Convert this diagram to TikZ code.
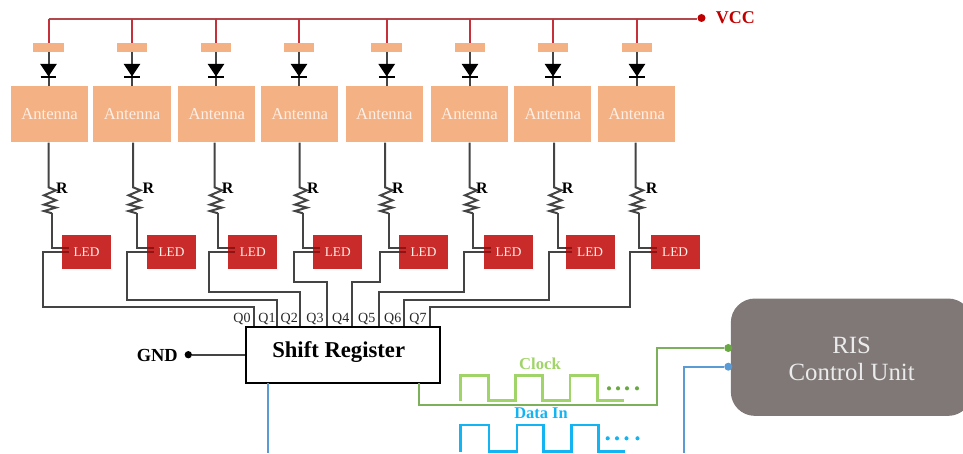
\documentclass[tikz,border=0pt]{standalone}
\usepackage{fontspec}
\setmainfont{Liberation Serif}
\definecolor{wirecol}{HTML}{444444}
\definecolor{railcol}{HTML}{B2474C}
\definecolor{dropcol}{HTML}{C4313A}
\definecolor{vcccol}{HTML}{C00000}
\definecolor{antcol}{HTML}{F4B183}
\definecolor{antext}{HTML}{FDEFE6}
\definecolor{ledcol}{HTML}{C92A2A}
\definecolor{stubcol}{HTML}{8E1414}
\definecolor{riscol}{HTML}{7F7877}
\definecolor{gwire}{HTML}{7DB05A}
\definecolor{gwave}{HTML}{A0D468}
\definecolor{gdot}{HTML}{6AA843}
\definecolor{bwire}{HTML}{5B9BD5}
\definecolor{bwave}{HTML}{14B4F2}
\tikzset{
  wire/.style={draw=wirecol,line width=1.5pt,line join=miter},
  rail/.style={draw=railcol,line width=1.5pt},
  drop/.style={draw=dropcol,line width=1.5pt},
  stub/.style={draw=stubcol,line width=1.5pt},
  padbox/.style={fill=antcol,inner sep=0pt,minimum width=22.9pt,minimum height=7pt},
  antbox/.style={fill=antcol,inner sep=0pt,anchor=north west,minimum height=42pt,text=antext,font=\fontsize{12.5}{15}\selectfont},
  ledbox/.style={fill=ledcol,inner sep=0pt,anchor=north west,minimum width=36.8pt,minimum height=25.9pt,text=antext,font=\fontsize{10}{12}\selectfont},
  rlabel/.style={inner sep=0pt,font=\fontsize{12}{14}\selectfont\bfseries},
  qlabel/.style={inner sep=0pt,text=black!85,font=\fontsize{10.5}{12}\selectfont},
  regbox/.style={draw=black,fill=white,line width=1.5pt,inner sep=0pt,minimum width=146pt,minimum height=42.2pt},
  risbox/.style={fill=riscol,rounded corners=18pt,inner sep=0pt,minimum width=181pt,minimum height=88pt},
  ristext/.style={inner sep=0pt,text=white!92!black,font=\fontsize{18.6}{20}\selectfont},
  sdot/.style={circle,inner sep=0pt,minimum size=#1},
  wave/.style={line width=2.2pt,line join=miter},
  tiny dot/.style={circle,inner sep=0pt,minimum size=3.1pt}
}
\begin{document}
\begin{tikzpicture}[x=0.75pt,y=-0.75pt]
\useasboundingbox (0,0) rectangle (963,453);
\clip (0,0) rectangle (963,453);
% supply rail
\node[sdot=6pt,fill=vcccol] (vccdot) at (701.5,18) {};
\node[inner sep=0pt,anchor=west,text=vcccol,font=\fontsize{13.5}{16}\selectfont\bfseries] (vcc) at (715.5,18) {VCC};
\coordinate (railstart) at (48.5,19);
\draw[rail] (railstart) -- (railstart -| vccdot.west);
% columns
\foreach \i/\vx/\al/\ar/\rx/\rl/\ll/\ux/\hy/\qx in {
  0/48.5/10.5/88/48.5/62/61.7/43/306.7/254,
  1/132/93/170.5/133/148.3/146.7/127.3/300/276.7,
  2/216/178/255/214.5/227.7/228/209/292/300.3,
  3/299/261/338/299.5/313/313/294.3/281.7/326.7,
  4/386.7/345.3/422.7/385/398/398.7/380.3/282.3/351.5,
  5/470/430.7/507.7/469.5/482/483.7/464.3/291.7/379,
  6/553/514/591/554/567.7/565.3/549/300/404,
  7/637/598/675/635.6/651.7/650.3/630.3/307.3/429.7}
{
  \pgfmathsetmacro{\antw}{(\ar-\al)*0.75}
  \node[padbox] (pad\i) at (\vx,47.5) {};
  \node[antbox,minimum width=\antw pt] (ant\i) at (\al,86) {\raisebox{-1.1pt}{Antenna}};
  \node[ledbox] (led\i) at (\ll,234.3) {LED};
  \coordinate (tap\i) at (\vx,19);
  \draw[drop] (tap\i) -- (pad\i.north);
  \draw[wire] (pad\i.south) -- (pad\i.south |- ant\i.north);
  % diode
  \fill[black] (\vx-8.3,64) -- (\vx+8.3,64) -- (\vx,76.5) -- cycle;
  \draw[black,line width=1.5pt] (\vx-7.8,77) -- (\vx+7.8,77);
  % resistor
  \coordinate (rtop\i) at (\rx,187.3);
  \coordinate (rbot\i) at (\rx+3.5,213.3);
  \draw[wire] (rtop\i |- ant\i.south) -- (rtop\i)
     -- ++(7.5,3) -- ++(-12,5) -- ++(12,5) -- ++(-12,4.3) -- ++(12,3) -- ++(-12,3.4) -- (rbot\i);
  \node[rlabel] (r\i) at (\rl,188.5) {R};
  % led wires
  \coordinate (lin\i) at (\ll,247.8);
  \coordinate (lout\i) at (\ll,252);
  \coordinate (lin2\i) at (\ll+6.8,247.8);
  \coordinate (lout2\i) at (\ll+6.8,252);
  \coordinate (pin\i) at (\qx,326.7);
  \draw[wire] (rbot\i) -- (rbot\i |- lin\i) -- (lin\i);
  \draw[wire] (lout\i) -- (\ux,252) -- (\ux,\hy) -- (\qx,\hy) -- (pin\i);
  \draw[stub] (lin\i) -- (lin2\i);
  \draw[stub] (lout\i) -- (lout2\i);
}
\foreach \i/\qc in {0/242,1/267,2/289.3,3/315,4/340.7,5/366.7,6/392.7,7/418}
  \node[qlabel] (q\i) at (\qc,319) {Q\i};
% shift register
\node[regbox] (sr) at (343,354.8) {};
\node[inner sep=0pt,font=\fontsize{17}{20}\selectfont\bfseries] (srtext) at (338.7,352) {Shift Register};
\node[sdot=5.5pt,fill=black] (gnddot) at (188.3,354.7) {};
\node[inner sep=0pt,anchor=east,font=\fontsize{13.8}{16}\selectfont\bfseries] (gnd) at (178,355) {GND};
\draw[draw=wirecol,line width=1.5pt] (gnddot) -- (gnddot -| sr.west);
% control unit
\node[risbox] (ris) at (851.5,357.2) {};
\node[ristext] (ristop) at (851.7,345) {RIS};
\node[ristext] (risbot) at (851.7,372) {Control Unit};
\coordinate (gfoot) at (419.3,383);
\coordinate (bfoot) at (268.3,383);
\coordinate (bend) at (268.3,453);
\coordinate (bend2) at (684.3,453);
\node[sdot=6pt,fill=gdot] (gport) at (728.3,348) {};
\node[sdot=6pt,fill=bwire] (bport) at (728.3,366.7) {};
\draw[draw=gwire,line width=1.5pt] (gfoot) -- (419.3,404.7) -- (657.3,404.7) -- (657.3,348) -- (gport);
\draw[draw=bwire,line width=1.5pt] (bfoot) -- (bend);
\draw[draw=bwire,line width=1.5pt] (bend2) -- (684.3,366.7) -- (bport);
% clock wave
\node[inner sep=0pt,text=gwave,font=\fontsize{12.5}{15}\selectfont\bfseries] (clk) at (540,363.3) {Clock};
\draw[draw=gwave,wave] (460.7,400.7) -- (460.7,375.7) -- (488.3,375.7) -- (488.3,400.7) -- (515.7,400.7) -- (515.7,375.7) -- (542.7,375.7) -- (542.7,400.7) -- (570,400.7) -- (570,375.7) -- (597.7,375.7) -- (597.7,400.7) -- (624.3,400.7);
\foreach \dx [count=\n] in {609,618,627,637}
  \node[tiny dot,fill=gdot] (cd\n) at (\dx,388.3) {};
% data wave
\node[inner sep=0pt,text=bwave,font=\fontsize{12.3}{15}\selectfont\bfseries] (din) at (541,413) {Data In};
\draw[draw=bwave,wave] (460.7,451.5) -- (460.7,425) -- (489,425) -- (489,451.5) -- (517,451.5) -- (517,425) -- (543.7,425) -- (543.7,451.5) -- (571.3,451.5) -- (571.3,425) -- (598.3,425) -- (598.3,451.5) -- (625.3,451.5);
\foreach \dx [count=\n] in {607.7,617,626.5,637.5}
  \node[tiny dot,fill=bwave] (dd\n) at (\dx,438.3) {};
\end{tikzpicture}
\end{document}
